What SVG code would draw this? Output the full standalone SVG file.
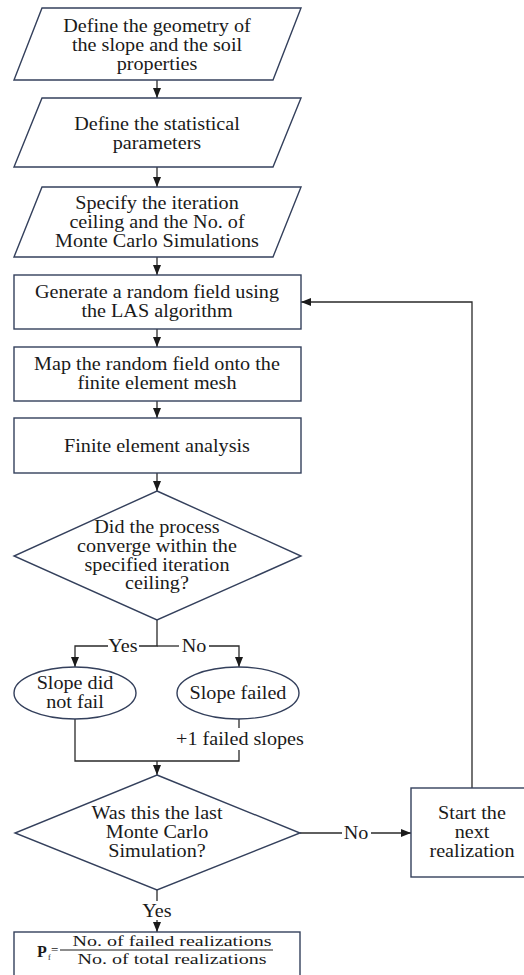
<svg xmlns="http://www.w3.org/2000/svg" width="524" height="975" viewBox="0 0 524 975">
<style>
.s{fill:#fff;stroke:#34405c;stroke-width:1.4}
.c{fill:none;stroke:#2a2a2a;stroke-width:1.3}
text{font-family:"Liberation Serif","DejaVu Serif",serif;font-size:18px;fill:#1a1a1a;text-anchor:middle}
.f{font-size:15px}
.st{text-anchor:start}
</style>
<defs>
<marker id="ah" markerUnits="userSpaceOnUse" markerWidth="10" markerHeight="10" viewBox="0 0 10 10" refX="10" refY="5" orient="auto">
<path d="M0,1 L10,5 L0,9 Z" fill="#1a1a1a"/>
</marker>
</defs>
<rect width="524" height="975" fill="#fff"/>
<g id="connectors" font-family="Liberation Serif, DejaVu Serif, serif">
<path class="c" d="M157,80 V98" marker-end="url(#ah)"/>
<path class="c" d="M157,167 V187" marker-end="url(#ah)"/>
<path class="c" d="M157,257 V275" marker-end="url(#ah)"/>
<path class="c" d="M157,329 V347" marker-end="url(#ah)"/>
<path class="c" d="M157,401 V418" marker-end="url(#ah)"/>
<path class="c" d="M157,473 V491" marker-end="url(#ah)"/>
<path class="c" d="M157,620 V646 H139"/>
<path class="c" d="M108,646 H75 V667" marker-end="url(#ah)"/>
<path class="c" d="M157,646 H179"/>
<path class="c" d="M209,646 H239 V667" marker-end="url(#ah)"/>
<text x="123" y="652" transform="translate(123,0) scale(1.12,1) translate(-123,0)">Yes</text>
<text x="194" y="652" transform="translate(194,0) scale(1.12,1) translate(-194,0)">No</text>
<path class="c" d="M75,719 V761 H239 V750"/>
<path class="c" d="M239,719 V728"/>
<text x="240" y="745" transform="translate(240,0) scale(1.12,1) translate(-240,0)">+1 failed slopes</text>
<path class="c" d="M157,761 V775" marker-end="url(#ah)"/>
<path class="c" d="M300,833 H342"/>
<path class="c" d="M371,833 H411" marker-end="url(#ah)"/>
<text x="356" y="839" transform="translate(356,0) scale(1.12,1) translate(-356,0)">No</text>
<path class="c" d="M472,788 V302 H301" marker-end="url(#ah)"/>
<path class="c" d="M157,890 V901"/>
<text x="157" y="917" transform="translate(157,0) scale(1.12,1) translate(-157,0)">Yes</text>
<path class="c" d="M157,920 V932" marker-end="url(#ah)"/>
</g>
<g id="n1">
<polygon class="s" points="42,8 301,8 273,80 14,80"/>
<g transform="translate(157,0) scale(1.12,1) translate(-157,0)">
<text x="157" y="32">Define the geometry of</text>
<text x="157" y="51">the slope and the soil</text>
<text x="157" y="70">properties</text>
</g>
</g>
<g id="n2">
<polygon class="s" points="42,98 301,98 273,167 14,167"/>
<g transform="translate(157,0) scale(1.12,1) translate(-157,0)">
<text x="157" y="130">Define the statistical</text>
<text x="157" y="149">parameters</text>
</g>
</g>
<g id="n3">
<polygon class="s" points="42,187 301,187 273,257 14,257"/>
<g transform="translate(157,0) scale(1.12,1) translate(-157,0)">
<text x="157" y="209">Specify the iteration</text>
<text x="157" y="228">ceiling and the No. of</text>
<text x="157" y="247">Monte Carlo Simulations</text>
</g>
</g>
<g id="n4">
<rect class="s" x="14" y="275" width="287" height="54"/>
<g transform="translate(157,0) scale(1.12,1) translate(-157,0)">
<text x="157" y="298">Generate a random field using</text>
<text x="157" y="317">the LAS algorithm</text>
</g>
</g>
<g id="n5">
<rect class="s" x="14" y="347" width="287" height="54"/>
<g transform="translate(157,0) scale(1.12,1) translate(-157,0)">
<text x="157" y="370">Map the random field onto the</text>
<text x="157" y="389">finite element mesh</text>
</g>
</g>
<g id="n6">
<rect class="s" x="14" y="418" width="287" height="55"/>
<g transform="translate(157,0) scale(1.12,1) translate(-157,0)">
<text x="157" y="452">Finite element analysis</text>
</g>
</g>
<g id="n7">
<polygon class="s" points="157,491 301,556 157,620 14,556"/>
<g transform="translate(157,0) scale(1.12,1) translate(-157,0)">
<text x="157" y="533">Did the process</text>
<text x="157" y="552">converge within the</text>
<text x="157" y="571">specified iteration</text>
<text x="157" y="589">ceiling?</text>
</g>
</g>
<g id="n8">
<ellipse class="s" cx="75" cy="693" rx="61" ry="26"/>
<g transform="translate(75,0) scale(1.12,1) translate(-75,0)">
<text x="75" y="689">Slope did</text>
<text x="75" y="708">not fail</text>
</g>
</g>
<g id="n9">
<ellipse class="s" cx="238" cy="693" rx="61" ry="26"/>
<g transform="translate(238,0) scale(1.12,1) translate(-238,0)">
<text x="238" y="699">Slope failed</text>
</g>
</g>
<g id="n10">
<polygon class="s" points="157,775 300,833 157,890 15,833"/>
<g transform="translate(157,0) scale(1.12,1) translate(-157,0)">
<text x="157" y="819">Was this the last</text>
<text x="157" y="838">Monte Carlo</text>
<text x="157" y="857">Simulation?</text>
</g>
</g>
<g id="n11">
<rect class="s" x="411" y="788" width="122" height="89"/>
<g transform="translate(472,0) scale(1.12,1) translate(-472,0)">
<text x="472" y="819">Start the</text>
<text x="472" y="838">next</text>
<text x="472" y="857">realization</text>
</g>
</g>
<g id="n12">
<rect class="s" x="14" y="932" width="286" height="60"/>
<text class="f st" x="37" y="957" style="font-weight:bold;font-size:16px">P</text>
<text class="st" x="48" y="960" style="font-size:8px">f</text>
<text class="st" x="51" y="954" style="font-size:13px">=</text>
<line x1="60" y1="950" x2="273" y2="950" stroke="#1a1a1a" stroke-width="1"/>
<text class="f" x="172" y="946" textLength="199" lengthAdjust="spacingAndGlyphs">No. of  failed realizations</text>
<text class="f" x="172" y="964" textLength="189" lengthAdjust="spacingAndGlyphs">No. of total realizations</text>
</g>
</svg>
